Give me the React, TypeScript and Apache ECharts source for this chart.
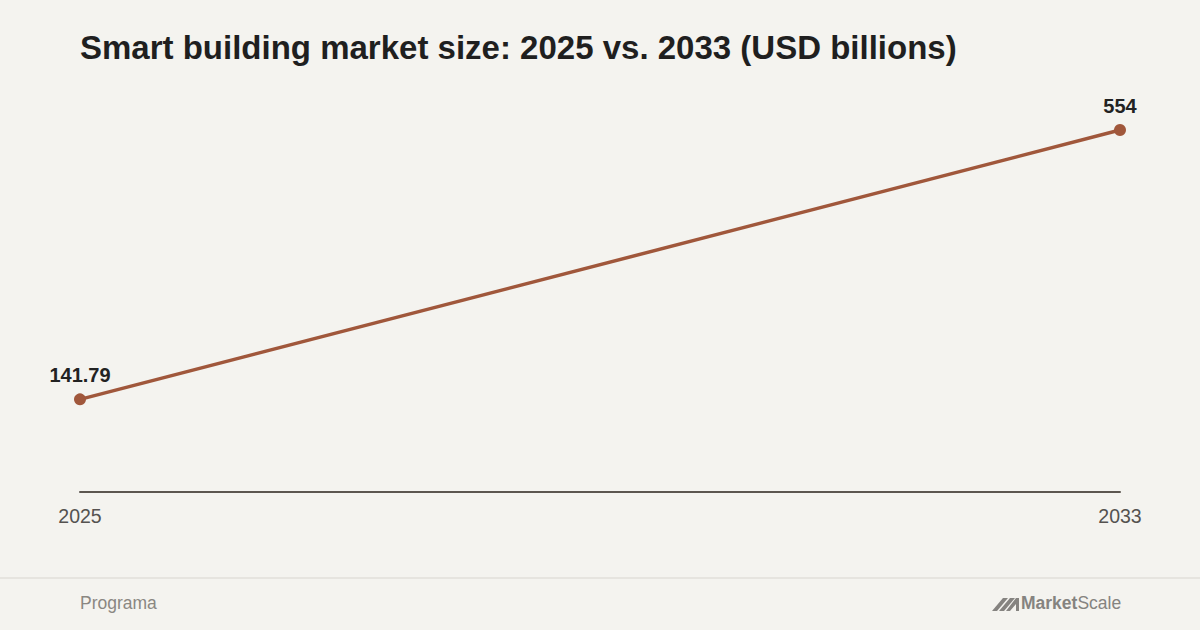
import React, { useEffect, useRef } from "react";
import * as echarts from "echarts";

const categories = ["2025", "2033"];
const values = [141.79, 554];
const valueLabels = ["141.79", "554"];

const TITLE = "Smart building market size: 2025 vs. 2033 (USD billions)";
const SOURCE = "Programa";

export default function App() {
  const ref = useRef<HTMLDivElement>(null);
  useEffect(() => {
    document.body.style.margin = "0";
    const chart = echarts.init(ref.current!, null, { renderer: "svg" });
    const font = "'Liberation Sans', Arial, Helvetica, sans-serif";
    chart.setOption({
      animation: false,
      backgroundColor: "#f4f3ef",
      textStyle: { fontFamily: font },
      grid: { left: 80, right: 80, top: 100, bottom: 138 },
      xAxis: {
        type: "category",
        data: categories,
        boundaryGap: false,
        axisLine: { show: true, lineStyle: { color: "#5c5650", width: 2 } },
        axisTick: { show: false },
        axisLabel: { color: "#555250", fontSize: 19.5, margin: 14, fontFamily: font },
        splitLine: { show: false },
      },
      yAxis: {
        type: "value",
        min: 0,
        max: 600,
        show: false,
        splitLine: { show: false },
      },
      series: [
        {
          type: "line",
          data: values,
          symbol: "circle",
          symbolSize: 12,
          lineStyle: { color: "#a0573b", width: 3.5 },
          itemStyle: { color: "#a0573b" },
          label: {
            show: true,
            position: "top",
            distance: 8,
            formatter: (p: any) => valueLabels[p.dataIndex],
            color: "#222222",
            fontSize: 20,
            fontWeight: "bold",
            fontFamily: font,
          },
        },
      ],
      graphic: [
        {
          type: "text",
          left: 80,
          top: 31,
          style: {
            text: TITLE,
            fill: "#1f1f1f",
            font: `bold 33px ${font}`,
          },
        },
        {
          type: "rect",
          shape: { x: 0, y: 577, width: 1200, height: 2 },
          style: { fill: "#e6e4df" },
        },
        {
          type: "text",
          left: 80,
          top: 594,
          style: { text: SOURCE, fill: "#8a8782", font: `17.5px ${font}` },
        },
        {
          type: "polygon",
          shape: { points: [[992, 611], [1003, 598], [1008, 598], [997, 611]] },
          style: { fill: "#858380" },
        },
        {
          type: "polygon",
          shape: { points: [[999, 611], [1010, 598], [1015, 598], [1004, 611]] },
          style: { fill: "#858380" },
        },
        {
          type: "polygon",
          shape: { points: [[1006, 611], [1016, 598], [1019, 598], [1019, 611], [1016, 611], [1016, 604], [1010, 611]] },
          style: { fill: "#858380" },
        },
        {
          type: "text",
          left: 1021,
          top: 594,
          style: {
            rich: {
              b: { fill: "#858380", fontWeight: "bold", fontSize: 17.5, fontFamily: font },
              l: { fill: "#858380", fontWeight: "normal", fontSize: 17.5, fontFamily: font },
            },
            text: "{b|Market}{l|Scale}",
          },
        },
      ],
    });
    return () => chart.dispose();
  }, []);
  return <div ref={ref} style={{ width: 1200, height: 630 }} />;
}
